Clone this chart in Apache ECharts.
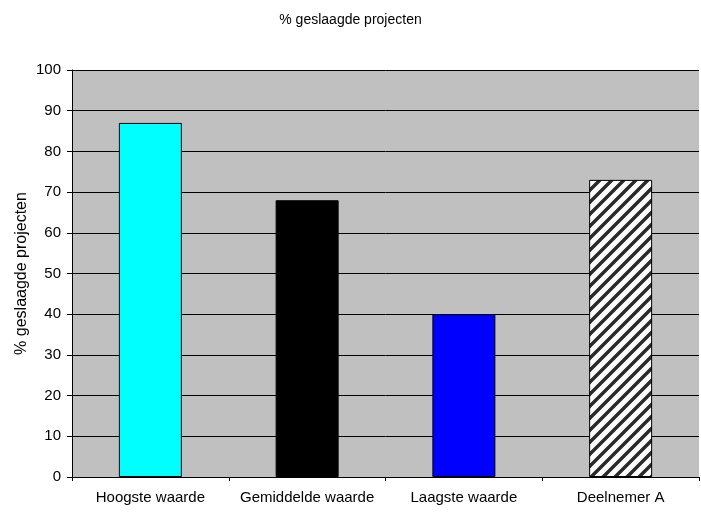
<!DOCTYPE html>
<html>
<head>
<meta charset="utf-8">
<script src="https://cdn.jsdelivr.net/npm/echarts@6/dist/echarts.min.js"></script>
<style>
  html, body { margin: 0; padding: 0; background: #fff; }
  #chart { width: 701px; height: 515px; }
</style>
</head>
<body>
<div id="chart"></div>
<script>
const categories = ['Hoogste waarde', 'Gemiddelde waarde', 'Laagste waarde', 'Deelnemer A'];
const values = [87, 68, 40, 73];
const barColors = ['#00ffff', '#000000', '#0000ff', 'hatch'];

// diagonal hatch for the participant bar
function makeHatch() {
  const s = 12;
  const c = document.createElement('canvas');
  c.width = s;
  c.height = s;
  const ctx = c.getContext('2d');
  ctx.fillStyle = '#fff';
  ctx.fillRect(0, 0, s, s);
  ctx.strokeStyle = '#2a2a2a';
  ctx.lineWidth = 3.5;
  ctx.beginPath();
  ctx.moveTo(-s / 2, s / 2); ctx.lineTo(s / 2, -s / 2);
  ctx.moveTo(0, s); ctx.lineTo(s, 0);
  ctx.moveTo(s / 2, s * 1.5); ctx.lineTo(s * 1.5, s / 2);
  ctx.stroke();
  return c;
}
const hatch = makeHatch();

const chart = echarts.init(document.getElementById('chart'));
const font = 'Liberation Sans, Arial, sans-serif';

chart.setOption({
  animation: false,
  title: {
    text: '% geslaagde projecten',
    left: 'center',
    top: 8,
    textStyle: { fontFamily: font, fontSize: 14, fontWeight: 'normal', color: '#000' },
  },
  grid: {
    left: 72,
    right: 2,
    top: 70,
    bottom: 38,
    show: true,
    backgroundColor: '#c0c0c0',
    borderWidth: 0,
  },
  xAxis: {
    type: 'category',
    data: categories,
    axisLine: { lineStyle: { color: '#000', width: 1 } },
    axisTick: { show: true, interval: 0, length: 4, lineStyle: { color: '#000' } },
    axisLabel: { interval: 0, color: '#000', fontFamily: font, fontSize: 15, margin: 13 },
  },
  yAxis: {
    type: 'value',
    min: 0,
    max: 100,
    interval: 10,
    name: '% geslaagde projecten',
    nameLocation: 'middle',
    nameGap: 42,
    nameMoveOverlap: false,
    nameTextStyle: { fontFamily: font, fontSize: 16, color: '#000' },
    axisLine: { show: true, lineStyle: { color: '#000', width: 1 } },
    axisTick: { show: true, length: 5, lineStyle: { color: '#000' } },
    axisLabel: { color: '#000', fontFamily: font, fontSize: 15, margin: 11 },
    splitLine: { lineStyle: { color: '#000', width: 1 } },
  },
  series: [{
    type: 'bar',
    barWidth: 63,
    data: values.map((v, i) => ({
      value: v,
      itemStyle: {
        color: barColors[i] === 'hatch' ? { image: hatch, repeat: 'repeat' } : barColors[i],
        borderColor: '#000',
        borderWidth: 1,
      },
    })),
  }],
});
</script>
</body>
</html>
